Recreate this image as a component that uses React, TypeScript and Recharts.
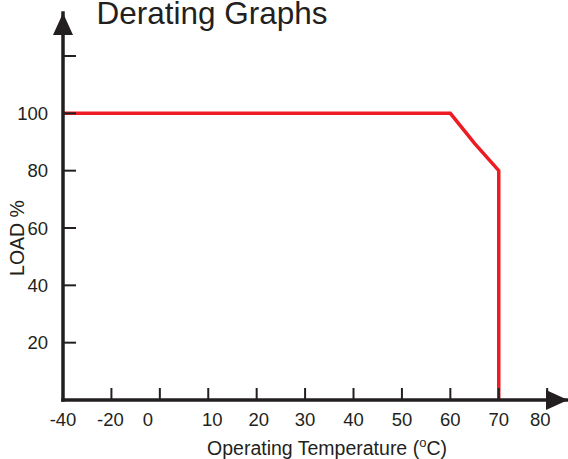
import React from 'react';
import { LineChart, Line, XAxis, YAxis } from 'recharts';

// ---- data ----
const temperatures = [-40, 60, 65, 70, 70];
const loads = [100, 100, 89.5, 80, 0];
const xTickTemps = [-40, -20, 0, 10, 20, 30, 40, 50, 60, 70, 80];
const yTicks = [20, 40, 60, 80, 100, 120];

// The original axis is broken below 0 °C: one grid step holds 20 °C there.
const axisPos = (t: number) => (t < 0 ? t / 2 : t);
const axisTemp = (p: number) => (p < 0 ? p * 2 : p);

const data = temperatures.map((t, i) => ({ pos: axisPos(t), temp: t, load: loads[i] }));
const xTicks = xTickTemps.map(axisPos);

// label nudges as printed in the original (style only)
const LABEL_NUDGE: Record<number, number> = { '-20': -1, 0: -12, 10: 4, 20: 2, 80: -7 } as any;

const INK = '#231f20';
const RED = '#ed1c24';
const FONT = '"Liberation Sans", Arial, Helvetica, sans-serif';

const XTick = (props: any) => {
  const { x, y, payload } = props;
  const t = axisTemp(payload.value);
  return (
    <text
      x={x + (LABEL_NUDGE[t] ?? 0)}
      y={y}
      dy="0.71em"
      textAnchor="middle"
      fill={INK}
      fontSize={18.5}
      fontFamily={FONT}
    >
      {t}
    </text>
  );
};

export default function App() {
  return (
    <div style={{ position: 'absolute', left: 0, top: 0, width: 568, height: 459, background: '#fff' }}>
      <LineChart
        width={568}
        height={459}
        data={data}
        margin={{ top: 13, right: 0, bottom: 0, left: 0 }}
      >
        <defs>
          <marker
            id="arrowHead"
            markerUnits="userSpaceOnUse"
            markerWidth={22}
            markerHeight={20}
            viewBox="0 0 22 20"
            refX={22}
            refY={10}
            orient="auto-start-reverse"
          >
            <path d="M0,0 L22,10 L0,20 Z" fill={INK} />
          </marker>
        </defs>
        <text
          x={212}
          y={24}
          textAnchor="middle"
          fill={INK}
          fontSize={31.5}
          fontFamily={FONT}
        >
          Derating Graphs
        </text>
        <XAxis
          type="number"
          dataKey="pos"
          domain={[axisPos(-40), 84.3]}
          ticks={xTicks}
          interval={0}
          allowDataOverflow
          height={59}
          tickSize={-12}
          tickMargin={25}
          tickLine={{ stroke: INK, strokeWidth: 2 }}
          axisLine={{ stroke: INK, strokeWidth: 3.5, strokeLinecap: 'square', markerEnd: 'url(#arrowHead)' } as any}
          tick={(p: any) => <XTick {...p} />}
        />
        <YAxis
          type="number"
          domain={[0, 135]}
          ticks={yTicks}
          interval={0}
          allowDataOverflow
          width={63}
          tickSize={-13}
          tickMargin={28}
          tickLine={{ stroke: INK, strokeWidth: 2 }}
          axisLine={{ stroke: INK, strokeWidth: 3.5, strokeLinecap: 'square', markerStart: 'url(#arrowHead)' } as any}
          tickFormatter={(v: number) => (v === 120 ? '' : String(v))}
          tick={{ fill: INK, fontSize: 18.5, fontFamily: FONT }}
        />
        <Line
          type="linear"
          dataKey="load"
          stroke={RED}
          strokeWidth={3.5}
          dot={false}
          activeDot={false}
          isAnimationActive={false}
        />
        <text
          x={24}
          y={238}
          transform="rotate(-90 24 238)"
          textAnchor="middle"
          fill={INK}
          fontSize={19.5}
          fontFamily={FONT}
        >
          LOAD %
        </text>
        <text x={327} y={455} textAnchor="middle" fill={INK} fontSize={19.5} fontFamily={FONT}>
          Operating Temperature (
          <tspan dy={-8} fontSize={13}>o</tspan>
          <tspan dy={8}>C)</tspan>
        </text>
      </LineChart>
    </div>
  );
}
